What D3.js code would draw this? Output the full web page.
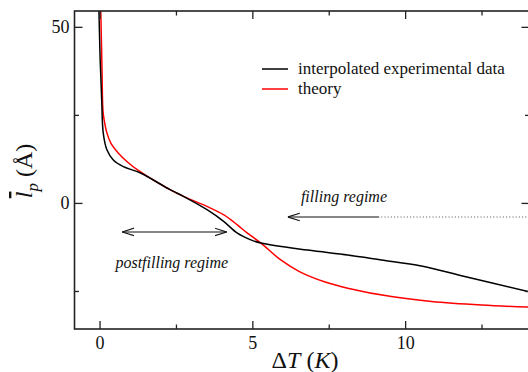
<!DOCTYPE html>
<html>
<head>
<meta charset="utf-8">
<script src="https://cdn.jsdelivr.net/npm/d3@7"></script>
<style>
  body { margin: 0; background: #fff; }
  text { font-family: "Liberation Serif", "Times New Roman", serif; fill: #111; }
</style>
</head>
<body>
<svg id="chart" width="528" height="372"></svg>
<script>
// Interpolated experimental data: ΔT (K) vs mean layer thickness (Å)
const expDT = [-0.04, -0.02, 0.02, 0.07, 0.12, 0.24, 0.45, 0.78, 1.34, 2.32, 2.76, 3.53, 4.07, 4.51, 4.95, 5.28, 6.81, 8.12, 9.22, 10.53, 11.95, 14.1];
const expL  = [60, 54.5, 40.6, 29.3, 19.9, 15.1, 12.2, 10.3, 8.5, 3.7, 1.8, -2.0, -5.3, -8.6, -10.5, -11.4, -13.4, -14.8, -16.2, -17.9, -20.9, -25.3];

// Theory curve
const theoryDT = [0.02, 0.04, 0.08, 0.11, 0.15, 0.24, 0.37, 0.61, 0.94, 1.34, 2.32, 2.76, 3.53, 4.07, 4.51, 4.84, 5.28, 5.93, 6.54, 7.36, 8.12, 9.55, 10.86, 12.5, 14.1];
const theoryL  = [60, 54.5, 38, 26.4, 23.6, 19.9, 17.0, 14.2, 11.4, 8.8, 3.7, 1.8, -1.05, -3.4, -6.25, -8.6, -11.4, -16.2, -19.5, -22.4, -24.2, -26.6, -28.0, -29.0, -29.6];

const seriesNames = ["interpolated experimental data", "theory"];
const seriesColors = ["#000000", "#ff0000"];

const xMajorTicks = [0, 5, 10];
const xMinorTicks = [2.5, 7.5, 12.5];
const yMajorTicks = [0, 50];
const yMinorTicks = [-25, 25];

const svg = d3.select("#chart");
const plotLeft = 74.5, plotRight = 529.5, plotTop = 11, plotBottom = 329;

const x = d3.scaleLinear().domain([-0.82, 14.07]).range([plotLeft, plotRight]);
const y = d3.scaleLinear().domain([-35.8, 54.5]).range([plotBottom, plotTop]);

const defs = svg.append("defs");
defs.append("clipPath").attr("id", "plotClip")
  .append("rect").attr("x", plotLeft).attr("y", plotTop)
  .attr("width", plotRight - plotLeft).attr("height", plotBottom - plotTop);

// Arrow heads (open chevrons)
function chevron(id, orient) {
  defs.append("marker")
    .attr("id", id).attr("viewBox", "0 0 12 10")
    .attr("refX", 12).attr("refY", 5)
    .attr("markerWidth", 12).attr("markerHeight", 10)
    .attr("markerUnits", "userSpaceOnUse")
    .attr("orient", orient)
    .append("path").attr("d", "M0,1.2 L12,5 L0,8.8")
    .attr("fill", "none").attr("stroke", "#111").attr("stroke-width", 1.1);
}
chevron("headEnd", "auto");
chevron("headStart", "auto-start-reverse");

// Curves
const line = d3.line().x(d => x(d[0])).y(d => y(d[1])).curve(d3.curveCatmullRom.alpha(0.5));
const curves = svg.append("g").attr("clip-path", "url(#plotClip)");
curves.append("path").datum(d3.zip(theoryDT, theoryL))
  .attr("d", line).attr("fill", "none").attr("stroke", seriesColors[1]).attr("stroke-width", 1.5);
curves.append("path").datum(d3.zip(expDT, expL))
  .attr("d", line).attr("fill", "none").attr("stroke", seriesColors[0]).attr("stroke-width", 1.5);

// Frame
svg.append("rect").attr("x", plotLeft).attr("y", plotTop)
  .attr("width", plotRight - plotLeft).attr("height", plotBottom - plotTop)
  .attr("fill", "none").attr("stroke", "#222").attr("stroke-width", 1.6);

// Inward ticks on all four sides
const axisColor = "#222";
function inward(axisFn, scale, vals, size, pos) {
  const g = svg.append("g").attr("transform", pos)
    .call(axisFn(scale).tickValues(vals).tickSize(size).tickFormat(""));
  g.select(".domain").remove();
  g.selectAll(".tick line").attr("stroke", axisColor).attr("stroke-width", 1.3);
  return g;
}
inward(d3.axisTop, x, xMajorTicks, 8, `translate(0,${plotBottom})`);
inward(d3.axisTop, x, xMinorTicks, 4.5, `translate(0,${plotBottom})`);
inward(d3.axisBottom, x, xMajorTicks, 8, `translate(0,${plotTop})`);
inward(d3.axisBottom, x, xMinorTicks, 4.5, `translate(0,${plotTop})`);
inward(d3.axisRight, y, yMajorTicks, 8, `translate(${plotLeft},0)`);
inward(d3.axisRight, y, yMinorTicks, 4.5, `translate(${plotLeft},0)`);
inward(d3.axisLeft, y, yMajorTicks, 8, `translate(${plotRight},0)`);
inward(d3.axisLeft, y, yMinorTicks, 4.5, `translate(${plotRight},0)`);

// Tick labels
const xl = svg.append("g").attr("transform", `translate(0,${plotBottom})`)
  .call(d3.axisBottom(x).tickValues(xMajorTicks).tickSize(0).tickPadding(7).tickFormat(d3.format("d")));
xl.select(".domain").remove();
xl.attr("font-family", null);
xl.selectAll("text").attr("font-size", 18).attr("fill", "#111");

const yl = svg.append("g").attr("transform", `translate(${plotLeft},0)`)
  .call(d3.axisLeft(y).tickValues(yMajorTicks).tickSize(0).tickPadding(5).tickFormat(d3.format("d")));
yl.select(".domain").remove();
yl.attr("font-family", null);
yl.selectAll("text").attr("font-size", 18).attr("fill", "#111");

// Axis titles
const xt = svg.append("text").attr("x", 305).attr("y", 368)
  .attr("text-anchor", "middle").attr("font-size", 24);
xt.append("tspan").text("Δ");
xt.append("tspan").attr("font-style", "italic").text("T");
xt.append("tspan").text(" (");
xt.append("tspan").attr("font-style", "italic").text("K");
xt.append("tspan").text(")");

const yt = svg.append("text").attr("transform", "translate(32,171) rotate(-90)")
  .attr("text-anchor", "middle").attr("font-size", 24);
yt.append("tspan").attr("font-style", "italic").style("text-decoration", "overline").text("l");
yt.append("tspan").attr("font-style", "italic").attr("font-size", 17).attr("dy", 6).text("p");
yt.append("tspan").attr("dy", -6).text(" (Å)");

// Legend
const legend = svg.append("g").attr("transform", "translate(262,69)");
seriesNames.forEach((name, i) => {
  const row = legend.append("g").attr("transform", `translate(0,${i * 20})`);
  row.append("line").attr("x1", 0).attr("x2", 26).attr("y1", 0).attr("y2", 0)
    .attr("stroke", seriesColors[i]).attr("stroke-width", 1.5);
  row.append("text").attr("x", 36).attr("y", 5).attr("font-size", 17).text(name);
});

// Regime annotations
svg.append("line")
  .attr("x1", x(9.15)).attr("x2", x(6.16)).attr("y1", y(-4)).attr("y2", y(-4))
  .attr("stroke", "#111").attr("stroke-width", 1.1).attr("marker-end", "url(#headEnd)");
svg.append("line")
  .attr("x1", x(14.07)).attr("x2", x(9.15)).attr("y1", y(-4)).attr("y2", y(-4))
  .attr("stroke", "#555").attr("stroke-width", 1).attr("stroke-dasharray", "1,2.2");
svg.append("text").attr("x", x(6.59)).attr("y", y(0.3))
  .attr("font-size", 16).attr("font-style", "italic").text("filling regime");

svg.append("line")
  .attr("x1", x(0.74)).attr("x2", x(4.16)).attr("y1", y(-8.24)).attr("y2", y(-8.24))
  .attr("stroke", "#111").attr("stroke-width", 1.1)
  .attr("marker-start", "url(#headStart)").attr("marker-end", "url(#headEnd)");
svg.append("text").attr("x", x(0.52)).attr("y", y(-18.5))
  .attr("font-size", 16).attr("font-style", "italic").text("postfilling regime");
</script>
</body>
</html>
